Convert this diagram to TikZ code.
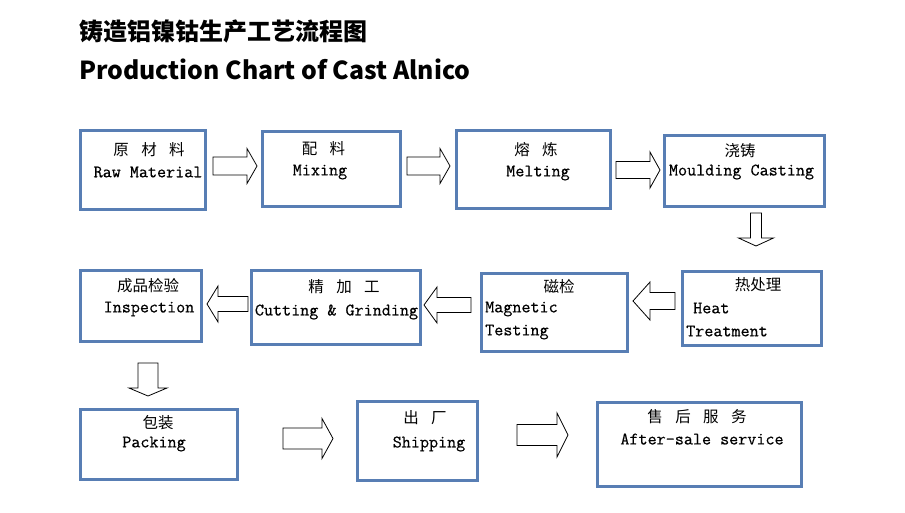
\documentclass[tikz,border=0pt]{standalone}
\usepackage{fontspec}
\newfontfamily\cjk{Noto Sans CJK SC}
\newfontfamily\titlefont{Noto Sans CJK SC}
\newfontfamily\monofont{Latin Modern Mono}[FakeBold=0.5]
\definecolor{boxblue}{RGB}{88,126,180}
\newcommand\rarr[6]{\draw[blk] (#1,#3-#4) -- (#2-#6,#3-#4) -- (#2-#6,#3-#5) -- (#2,#3) -- (#2-#6,#3+#5) -- (#2-#6,#3+#4) -- (#1,#3+#4) -- cycle;}
\newcommand\larr[6]{\draw[blk] (#1,#3-#4) -- (#2+#6,#3-#4) -- (#2+#6,#3-#5) -- (#2,#3) -- (#2+#6,#3+#5) -- (#2+#6,#3+#4) -- (#1,#3+#4) -- cycle;}
\newcommand\darr[6]{\draw[blk] (#3-#4,#1) -- (#3-#4,#2-#6) -- (#3-#5,#2-#6) -- (#3,#2) -- (#3+#5,#2-#6) -- (#3+#4,#2-#6) -- (#3+#4,#1) -- cycle;}
\newcommand\gp{\hspace{0.8em}}
\begin{document}
\begin{tikzpicture}[x=1pt,y=-1pt,
  box/.style={draw=boxblue,line width=3pt,rectangle,inner sep=0pt},
  blk/.style={draw=black,fill=white,line width=0.8pt,line join=miter},
  zh/.style={font=\cjk\fontsize{15.5}{15.5}\selectfont,inner sep=0pt},
  en/.style={font=\monofont\fontsize{17.6}{17.6}\selectfont,inner sep=0pt}]
\useasboundingbox[fill=white] (0,0) rectangle (905,512);
% titles
\node[anchor=west,inner sep=0pt,font=\titlefont\bfseries\fontsize{24}{24}\selectfont] (t1) at (79,31) {铸造铝镍钴生产工艺流程图};
\node[anchor=west,inner sep=0pt,font=\titlefont\bfseries\fontsize{24.8}{24.8}\selectfont] (t2) at (79,69) {Production Chart of Cast Alnico};
% boxes
\node[box,minimum width=125,minimum height=79] (raw) at (143,170) {};
\node[box,minimum width=138,minimum height=75] (mix) at (331.5,169) {};
\node[box,minimum width=154,minimum height=78] (melt) at (533.5,169.5) {};
\node[box,minimum width=160,minimum height=71] (mould) at (744.5,171) {};
\node[box,minimum width=121,minimum height=71] (insp) at (141,306) {};
\node[box,minimum width=169,minimum height=74] (cut) at (336,307.5) {};
\node[box,minimum width=146,minimum height=78] (mag) at (554.5,312.5) {};
\node[box,minimum width=139,minimum height=74] (heat) at (752,308.5) {};
\node[box,minimum width=157,minimum height=70] (pack) at (159,444.5) {};
\node[box,minimum width=120,minimum height=79] (ship) at (417.5,441) {};
\node[box,minimum width=204,minimum height=84] (after) at (699.5,444.5) {};
% texts
\node[zh] (rawz) at (149,150) {原\gp 材\gp 料};
\node[en] (rawe) at (148,172) {Raw Material};
\node[zh] (mixz) at (323.5,149) {配\gp 料};
\node[en] (mixe) at (320,172) {Mixing};
\node[zh] (meltz) at (536,150) {熔\gp 炼};
\node[en] (melte) at (538,173) {Melting};
\node[zh] (mouldz) at (740,151) {浇铸};
\node[en] (moulde) at (741.5,172) {Moulding Casting};
\node[zh] (inspz) at (148,286) {成品检验};
\node[en] (inspe) at (149,309) {Inspection};
\node[zh] (cutz) at (344,287) {精\gp 加\gp 工};
\node[en] (cute) at (336.5,312) {Cutting \& Grinding};
\node[zh] (magz) at (559,287) {磁检};
\node[en,anchor=west] (mage1) at (485,309) {Magnetic};
\node[en,anchor=west] (mage2) at (485,332) {Testing};
\node[zh] (heatz) at (758,285) {热处理};
\node[en,anchor=west] (heate1) at (693,308) {Heat};
\node[en,anchor=west] (heate2) at (686,331) {Treatment};
\node[zh] (packz) at (158,423) {包装};
\node[en] (packe) at (154,444) {Packing};
\node[zh] (shipz) at (425,418) {出\gp 厂};
\node[en] (shipe) at (429,444) {Shipping};
\node[zh] (afterz) at (697,417) {售\gp 后\gp 服\gp 务};
\node[en] (aftere) at (702,439) {After-sale service};
% block arrows
\rarr{213}{257}{166}{9}{17.5}{10}
\rarr{407}{450}{166}{9}{17.5}{10}
\rarr{616}{660}{170}{8.5}{18}{10}
\darr{213}{246}{756}{5.5}{17.5}{8}
\larr{675}{633}{301}{8.5}{19}{17}
\larr{471}{424}{305}{7.5}{18}{13}
\larr{248}{207}{304}{7.5}{18}{11}
\darr{363}{396}{148}{10}{19}{8}
\rarr{283}{333}{438.5}{10.5}{20}{11}
\rarr{517}{568}{435}{10.5}{22}{11}
\end{tikzpicture}
\end{document}
